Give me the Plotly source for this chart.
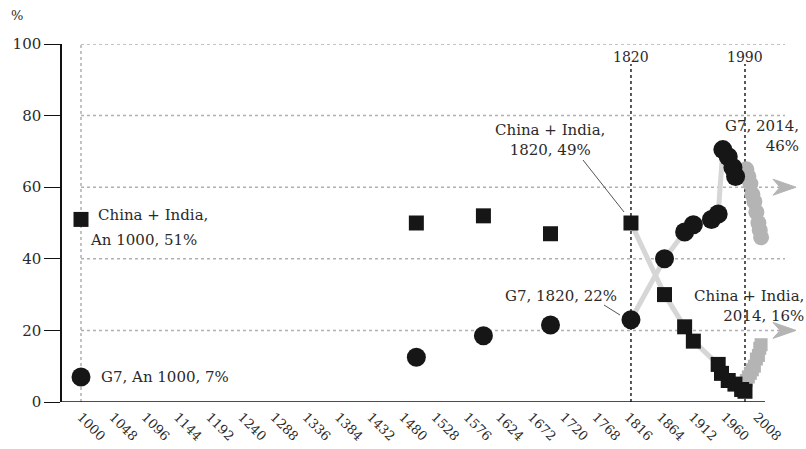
import plotly.graph_objects as go

# ---------------- data ----------------
ci_years = [1000, 1500, 1600, 1700, 1820, 1870, 1900, 1913, 1950, 1955, 1965, 1975, 1985, 1990]
ci_values = [51, 50, 52, 47, 50, 30, 21, 17, 10.5, 8, 6, 5, 3.5, 3]

g7_years = [1000, 1500, 1600, 1700, 1820, 1870, 1900, 1913, 1940, 1950, 1957, 1965, 1972, 1976]
g7_values = [7, 12.5, 18.5, 21.5, 23, 40, 47.5, 49.5, 51, 52.5, 70.5, 68.5, 65.5, 63]

g7_recent_years = [1992, 1995, 1998, 2001, 2004, 2007, 2010, 2012, 2014]
g7_recent_values = [65, 63, 61, 58, 56, 53, 50, 48, 46]

ci_recent_years = [1992, 1995, 1998, 2001, 2004, 2007, 2010, 2012, 2014]
ci_recent_values = [6, 7, 8, 9, 10, 12, 13, 15, 16]

tick_years = list(range(1000, 2009, 48))
y_ticks = [0, 20, 40, 60, 80, 100]
marker_years = [1820, 1990]

# ---------------- geometry helpers ----------------
L, R, T, B = 62, 800, 44, 402
K = 0.6707  # px per year
X1000 = 81
XMIN = 1000 - (X1000 - L) / K
XMAX = 1000 + (R - X1000) / K
PXV = (B - T) / 100.0


def yr(px):
    return 1000 + (px - X1000) / K


def val(py):
    return (B - py) / PXV


def paper_x(px):
    return (px - L) / (R - L)


def paper_y(py):
    return (B - py) / (B - T)


FONT = "DejaVu Serif"
TXT = "#2a2a2a"
BLACK = "#161616"
GRID = "#b0b0b0"

fig = go.Figure()

# connecting light-grey lines (from 1820 on)
i_ci = ci_years.index(1820)
i_g7 = g7_years.index(1820)
fig.add_trace(go.Scatter(x=ci_years[i_ci:], y=ci_values[i_ci:], mode="lines",
                         line=dict(color="#d6d6d6", width=5), hoverinfo="skip", showlegend=False))
fig.add_trace(go.Scatter(x=g7_years[i_g7:], y=g7_values[i_g7:], mode="lines",
                         line=dict(color="#d6d6d6", width=5), hoverinfo="skip", showlegend=False))

# recent grey blobs
fig.add_trace(go.Scatter(x=g7_recent_years, y=g7_recent_values, mode="markers",
                         marker=dict(symbol="circle", size=16, color="#b4b4b4"), showlegend=False))
fig.add_trace(go.Scatter(x=ci_recent_years, y=ci_recent_values, mode="markers",
                         marker=dict(symbol="square", size=13, color="#b4b4b4"), showlegend=False))

# main series
fig.add_trace(go.Scatter(x=ci_years, y=ci_values, mode="markers", name="China + India",
                         marker=dict(symbol="square", size=15, color=BLACK), showlegend=False))
fig.add_trace(go.Scatter(x=g7_years, y=g7_values, mode="markers", name="G7",
                         marker=dict(symbol="circle", size=19, color=BLACK), showlegend=False))

shapes = []
# horizontal grid lines
for v in y_ticks[1:]:
    xend = yr(790) if v in (20, 60) else yr(785)
    shapes.append(dict(type="line", xref="x", yref="y", x0=1000, x1=xend, y0=v, y1=v,
                       line=dict(color=GRID, width=1.5, dash="dot"), layer="below"))
# vertical grid at 1000
shapes.append(dict(type="line", xref="x", yref="y", x0=1000, x1=1000, y0=0, y1=100,
                   line=dict(color=GRID, width=1.5, dash="dot"), layer="below"))
# arrow heads on 60 and 20 lines
for v in (20, 60):
    tip = yr(796)
    back = yr(773)
    notch = yr(780)
    h = 8 / PXV
    path = (f"M {back},{v + h} L {tip},{v} L {back},{v - h} L {notch},{v} Z")
    shapes.append(dict(type="path", xref="x", yref="y", path=path,
                       fillcolor="#b4b4b4", line=dict(color="#b4b4b4", width=1), layer="below"))
# x axis line
shapes.append(dict(type="line", xref="x", yref="y", x0=XMIN, x1=yr(765), y0=0, y1=0,
                   line=dict(color="#111111", width=1.5)))
# vertical dotted marker lines
for m in marker_years:
    shapes.append(dict(type="line", xref="x", yref="y", x0=m, x1=m, y0=0, y1=val(64),
                       line=dict(color="#222222", width=1.5, dash="dot"), layer="below"))
# leader lines
shapes.append(dict(type="line", xref="x", yref="y", x0=yr(583), y0=val(160), x1=yr(624), y1=val(212),
                   line=dict(color="#555555", width=1)))
shapes.append(dict(type="line", xref="x", yref="y", x0=yr(604), y0=val(305), x1=yr(620), y1=val(315),
                   line=dict(color="#555555", width=1)))

annotations = []


def ann(text, px, py, xanchor="left", size=15, align="left"):
    annotations.append(dict(text=text, xref="paper", yref="paper", x=paper_x(px), y=paper_y(py),
                            xanchor=xanchor, yanchor="middle", showarrow=False, align=align,
                            font=dict(family=FONT, size=size, color=TXT)))


ann("%", 17, 16, xanchor="center", size=13)
for m in marker_years:
    ann(str(m), X1000 + (m - 1000) * K, 57, xanchor="center", size=14)
ann("China + India,", 96, 215)
ann("An 1000, 51%", 88, 240)
ann("G7, An 1000, 7%", 99, 377)
ann("China + India,<br>1820, 49%", 550, 140, xanchor="center", align="center")
ann("G7, 1820, 22%", 619, 296, xanchor="right")
ann("G7, 2014,<br>46%", 801, 136, xanchor="right", align="right")
ann("China + India,<br>2014, 16%", 806, 306, xanchor="right", align="right")

fig.update_layout(
    width=806, height=449,
    margin=dict(l=L, r=806 - R, t=T, b=449 - B),
    paper_bgcolor="white", plot_bgcolor="white",
    shapes=shapes, annotations=annotations,
    xaxis=dict(range=[XMIN, XMAX], tickvals=tick_years, ticktext=[str(t) for t in tick_years],
               tickangle=45, showgrid=False, zeroline=False, showline=False, ticks="",
               ticklabelstandoff=4,
               tickfont=dict(family=FONT, size=13, color=TXT), automargin=False, fixedrange=True),
    yaxis=dict(range=[0, 100], tickvals=y_ticks, showgrid=False, zeroline=False,
               showline=True, linecolor="#111111", linewidth=1.5, ticks="outside", ticklen=16,
               tickcolor="#111111", tickwidth=1, tickfont=dict(family=FONT, size=15, color=TXT),
               automargin=False, fixedrange=True),
    showlegend=False,
)

fig.write_html("out.html", config={"displayModeBar": False},
               post_script="document.body.style.margin='0';")
